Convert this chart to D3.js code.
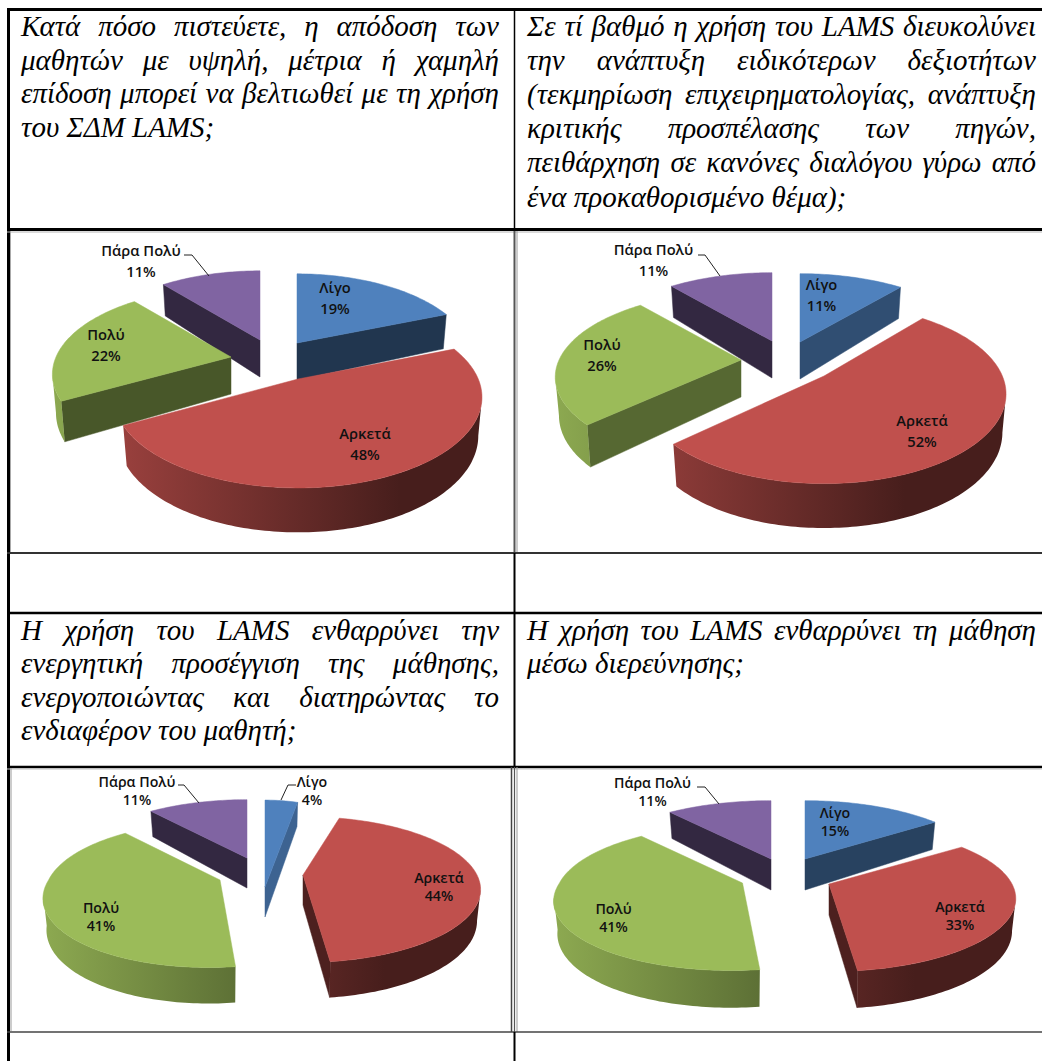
<!DOCTYPE html>
<html><head><meta charset="utf-8">
<script src="https://cdnjs.cloudflare.com/ajax/libs/d3/7.8.5/d3.min.js"></script>
<style>html,body{margin:0;padding:0;background:#fff}svg{display:block}
.q{font-family:"Liberation Serif",serif;font-style:italic;font-size:29px;fill:#000}
.l{font-family:"Open Sans","Noto Sans",sans-serif;font-weight:600;fill:#111;text-anchor:middle}</style>
</head><body><svg id="c" width="1042" height="1061"></svg>
<script>
// ---- data ----
const categories = ["Λίγο","Αρκετά","Πολύ","Πάρα Πολύ"];
const seriesColors = ["#4f81bd","#c0504d","#9bbb59","#8064a2"];
const valuesA = [19,48,22,11];
const valuesB = [11,52,26,11];
const valuesC = [4,44,41,11];
const valuesD = [15,33,41,11];
const questionA = ["Κατά πόσο πιστεύετε, η απόδοση των","μαθητών με υψηλή, μέτρια ή χαμηλή","επίδοση μπορεί να βελτιωθεί με τη χρήση","του ΣΔΜ LAMS;"];
const questionB = ["Σε τί βαθμό η χρήση του LAMS διευκολύνει","την ανάπτυξη ειδικότερων δεξιοτήτων","(τεκμηρίωση επιχειρηματολογίας, ανάπτυξη","κριτικής προσπέλασης των πηγών,","πειθάρχηση σε κανόνες διαλόγου γύρω από","ένα προκαθορισμένο θέμα);"];
const questionC = ["Η χρήση του LAMS ενθαρρύνει την","ενεργητική προσέγγιση της μάθησης,","ενεργοποιώντας και διατηρώντας το","ενδιαφέρον του μαθητή;"];
const questionD = ["Η χρήση του LAMS ενθαρρύνει τη μάθηση","μέσω διερεύνησης;"];

// ---- layout (separate from the data): slice = [tipX, tipY, scaleX, scaleY, frontSkew] ----
const k = 0.2;
const charts = [
 {values:valuesA, rx:175, ry:83, h:37, gradX:[40,400], fs:14.7,
  tips:[[297,343,.985,1,0],[298,379,1.03,1.05,0],[231,357,1,1,0],[260,340,1,1,0]],
  labels:[[335,288],[365,434],[106,335],[141,251]], leaders:[null,null,null,[[184,255],[192,255],[209,276]]], dy:21},
 {values:valuesB, rx:182, ry:82, h:37, gradX:[545,905], fs:14.7,
  tips:[[800,342,1,1,0],[824,376,.98,1.05,0],[741,360,1,1,0],[772,341,1,1,0]],
  labels:[[821.5,285],[922,421],[602,345],[653.5,250]], leaders:[null,null,null,[[698,255],[705,255],[720,276]]], dy:21},
 {values:valuesC, rx:174, ry:70, h:30, gradX:[35,385], fs:14.2,
  tips:[[265,887,.9,1.49,0],[303,875,1,1,0],[220,880,.985,1,-.13],[247,858,1,1,0]],
  labels:[[312,782],[439,878],[101,908],[137,782]], leaders:[[[296,785],[288,785],[281,800]],null,null,[[178,785],[184,785],[199,803]]], dy:18},
 {values:valuesD, rx:183, ry:70, h:31, gradX:[545,915], fs:14.2,
  tips:[[805,859,.98,1,0],[829,884,1,1,0],[742.5,883,1,1,-.13],[771,859,1,1,0]],
  labels:[[835,813],[960,907],[613.5,909],[652.5,783]], leaders:[null,null,null,[[697,787],[705,787],[719,804]]], dy:18}
];
const textBlocks = [
 {lines:questionA, x:21, w:478, y:36, step:33.6},
 {lines:questionB, x:527, w:509, y:36, step:34.1},
 {lines:questionC, x:21, w:478, y:640, step:33.4},
 {lines:questionD, x:527, w:509, y:640, step:33.4}
];

const svg = d3.select("#c"), defs = svg.append("defs");
const pie = d3.pie().sort(null).value(d=>d);
const line = d3.line();
const TAU = 2*Math.PI, deg = Math.PI/180;

charts.forEach((ch,ci)=>{
  const arcs = pie(ch.values);
  const g = svg.append("g");
  seriesColors.forEach((c,si)=>{
    const grad = defs.append("linearGradient").attr("id",`g${ci}_${si}`)
      .attr("gradientUnits","userSpaceOnUse")
      .attr("x1",ch.gradX[0]).attr("x2",ch.gradX[1]).attr("y1",0).attr("y2",0);
    const shade = d3.interpolateRgb("#000",c);
    grad.append("stop").attr("offset",0).attr("stop-color",shade(.92));
    grad.append("stop").attr("offset",1).attr("stop-color",shade(.37));
  });
  const flatPoint = (t,i)=>{
    const [,,sx,sy,skew]=ch.tips[i], v=Math.cos(t), s=1/(1+k*v);
    const y=-ch.ry*sy*v*s;
    return [ch.rx*sx*Math.sin(t)*s+skew*Math.max(0,y), y];
  };
  const top = (t,i)=>{
    const [x,y]=flatPoint(t,i);
    return [ch.tips[i][0]+x, ch.tips[i][1]+y];
  };
  const bottom = (t,i)=>{
    const [x,y]=flatPoint(t,i);
    return [ch.tips[i][0]+.98*x, ch.tips[i][1]+y+ch.h*(1-.2*Math.cos(t))];
  };
  const angles=(a,b)=>{const r=d3.range(a,b,.02);r.push(b);return r;};
  [3,0,2,1].forEach(i=>{
    const a=arcs[i], c=seriesColors[i];
    const tip=[ch.tips[i][0],ch.tips[i][1]], tipB=[tip[0],tip[1]+ch.h];
    const base=d3.interpolateRgb("#000",c);
    const flat=n=>base(Math.max(.4,.77-(n-104)*.0065));
    if(Math.sin(a.endAngle)>0.001 && a.endAngle<Math.PI){
      g.append("path").attr("d",line([tip,top(a.endAngle,i),bottom(a.endAngle,i),tipB])+"Z")
       .attr("fill",flat(a.endAngle/deg+90)).attr("stroke",flat(a.endAngle/deg+90)).attr("stroke-width",.5);
    }
    if(Math.sin(a.startAngle)<-0.001){
      g.append("path").attr("d",line([tip,top(a.startAngle,i),bottom(a.startAngle,i),tipB])+"Z")
       .attr("fill",flat(a.startAngle/deg-90)).attr("stroke",flat(a.startAngle/deg-90)).attr("stroke-width",.5);
    }
    const lo=Math.max(a.startAngle,Math.acos(-k)), hi=Math.min(a.endAngle,TAU-Math.acos(-k));
    if(hi>lo){
      const ts=angles(lo,hi);
      const pts=ts.map(t=>top(t,i)).concat(ts.slice().reverse().map(t=>bottom(t,i)));
      g.append("path").attr("d",line(pts)+"Z").attr("fill",`url(#g${ci}_${i})`);
    }
    const pts=[tip].concat(angles(a.startAngle,a.endAngle).map(t=>top(t,i)));
    g.append("path").attr("d",line(pts)+"Z").attr("fill",c).attr("stroke",c).attr("stroke-width",.5);
  });
  arcs.forEach((a,i)=>{
    const [x,y]=ch.labels[i];
    const t=svg.append("text").attr("class","l").attr("font-size",ch.fs);
    t.append("tspan").attr("x",x).attr("y",y+5).text(categories[i]);
    t.append("tspan").attr("x",x).attr("y",y+5+ch.dy).text(a.value+"%");
    if(ch.leaders[i]) svg.append("path").attr("d",line(ch.leaders[i])).attr("fill","none").attr("stroke","#222").attr("stroke-width",1);
  });
});

textBlocks.forEach(b=>{
  b.lines.forEach((ln,i)=>{
    const t=svg.append("text").attr("class","q").attr("x",b.x).attr("y",b.y+i*b.step).text(ln);
    const last=i===b.lines.length-1;
    const words=ln.split(" ").length;
    const natural=t.node().getComputedTextLength();
    if(!last&&words>1&&b.w>natural) t.attr("word-spacing",(b.w-natural)/(words-1));
  });
});

const rule=(x1,y1,x2,y2,w,col)=>svg.append("line").attr("x1",x1).attr("y1",y1).attr("x2",x2).attr("y2",y2).attr("stroke",col).attr("stroke-width",w);
rule(8.5,8,8.5,1061,3,"#000");
rule(7,9.5,1042,9.5,3,"#000");
rule(7,229.5,1042,229.5,3,"#000");
rule(7,232,1042,232,1,"#b5b5b5");
rule(514.5,8,514.5,229,1.5,"#000");
rule(514.5,231,514.5,553,2,"#555");
rule(517,231,517,553,1,"#999");
rule(10.5,231,10.5,552,1,"#aaa");
rule(7,553,1042,553,2,"#333");
rule(514.5,553,514.5,767,2,"#000");
rule(7,613,1042,613,2.5,"#000");
rule(7,767,1042,767,2.5,"#000");
rule(7,769,1042,769,1,"#c0c0c0");
rule(11,768,11,1031,1,"#999");
rule(511.5,767,511.5,1032,1.5,"#444");
rule(514.5,767,514.5,1032,1.2,"#555");
rule(517,767,517,1032,1,"#999");
rule(7,1032,1042,1032,1.5,"#444");
rule(514.5,1032,514.5,1061,2,"#000");
</script></body></html>
